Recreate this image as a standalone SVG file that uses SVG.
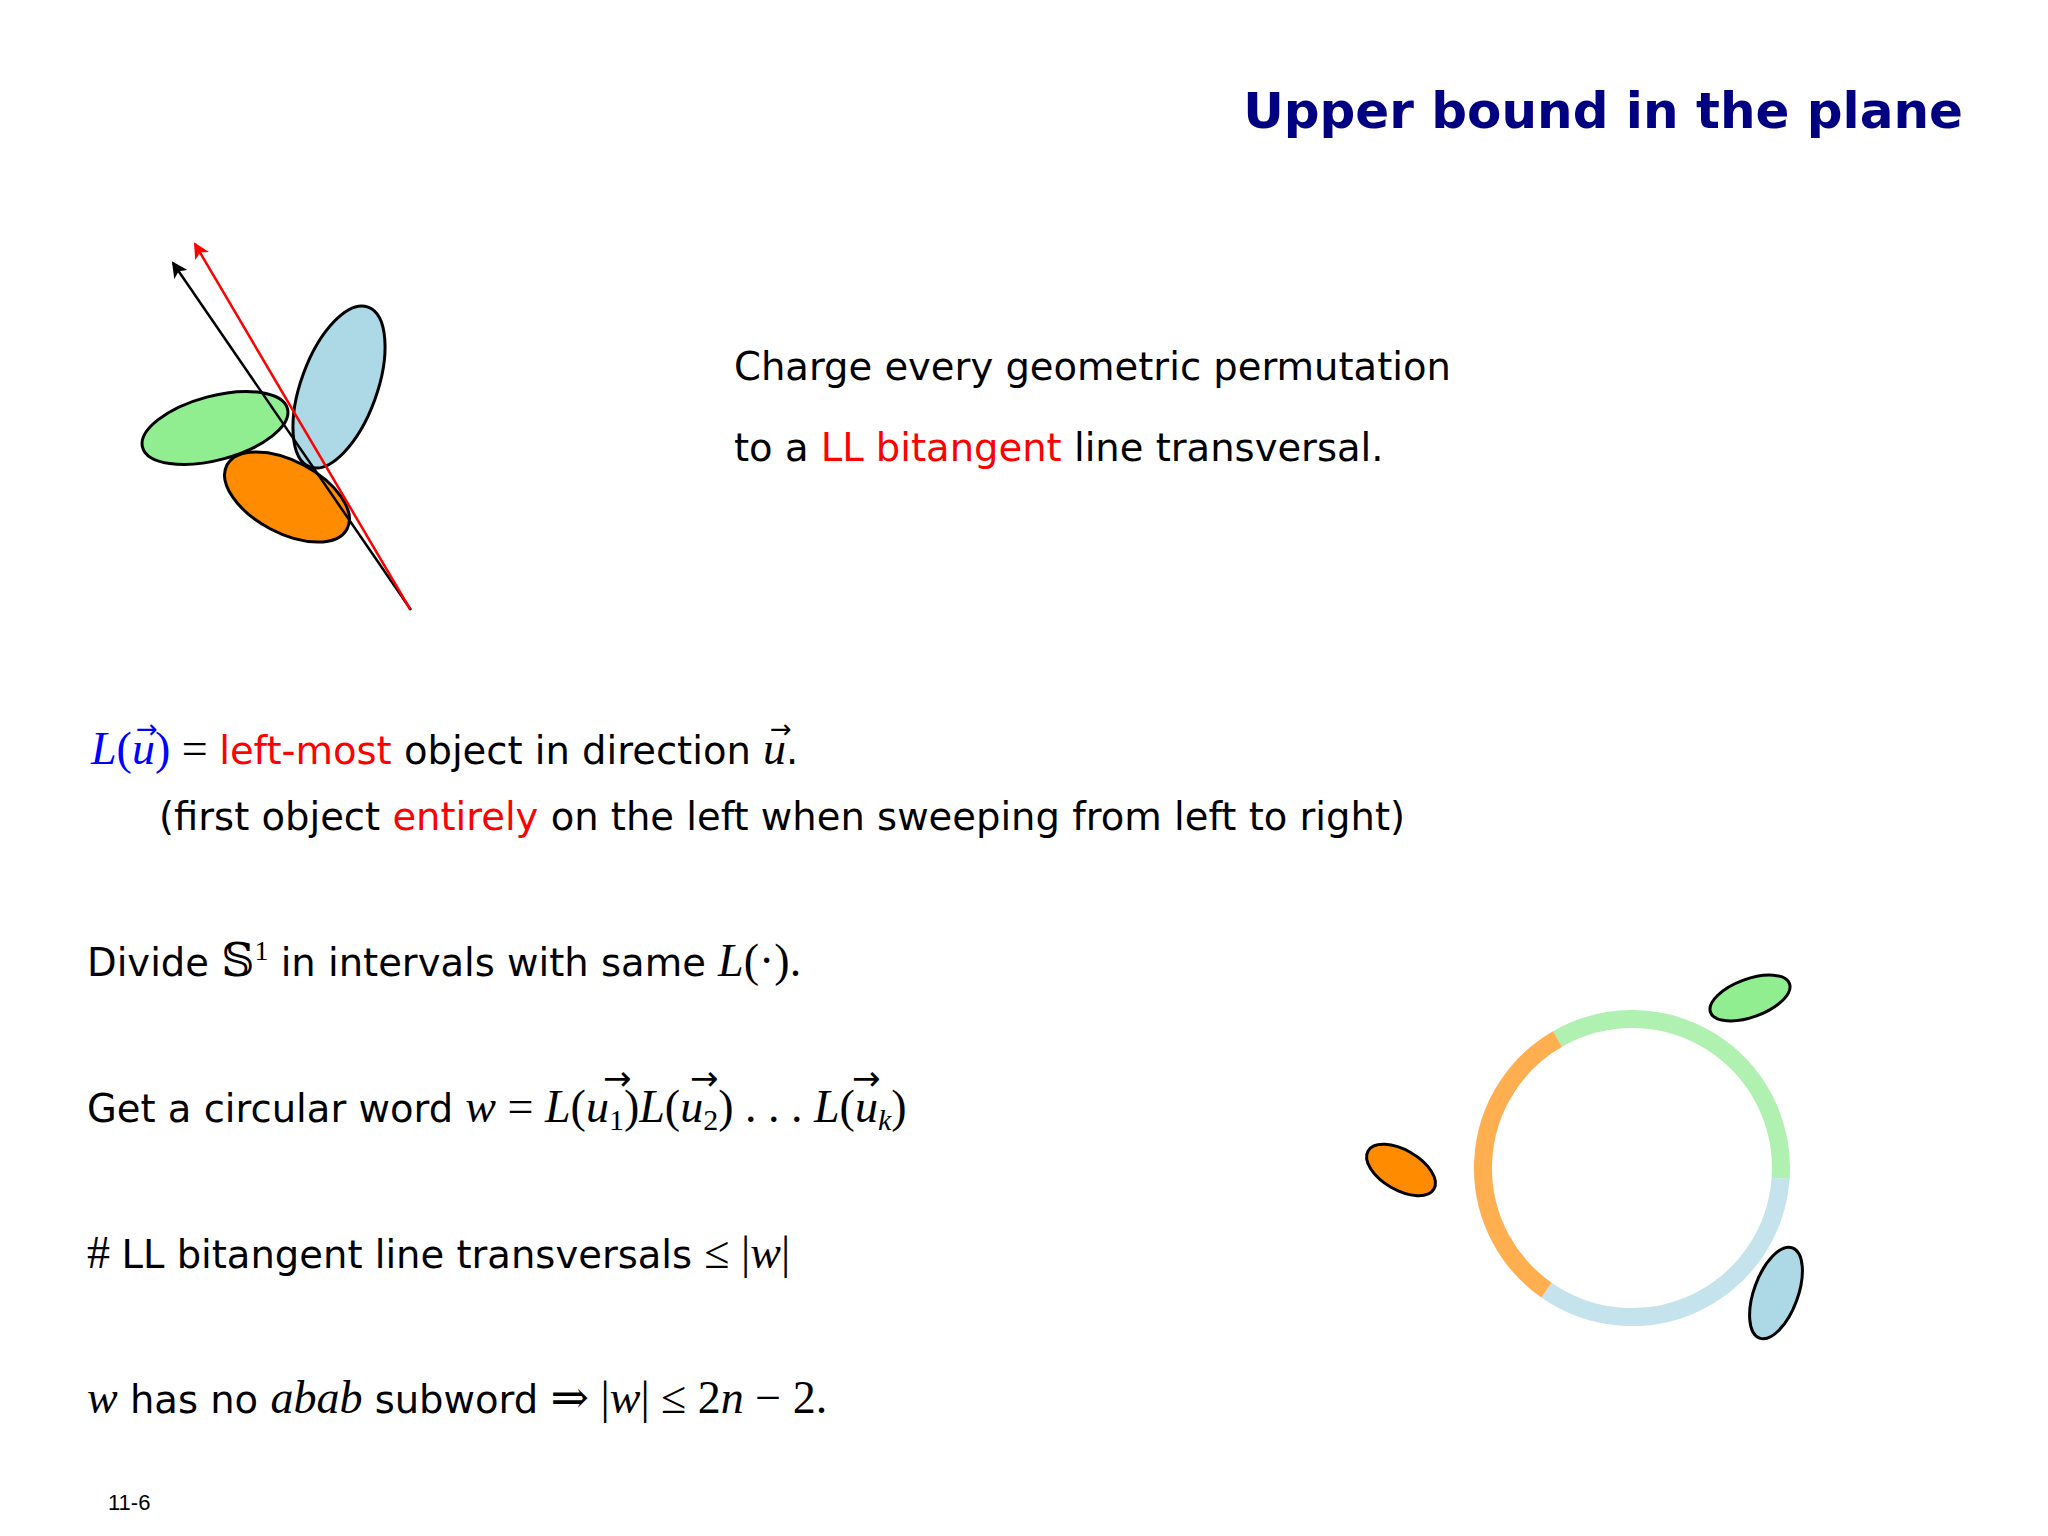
<svg xmlns="http://www.w3.org/2000/svg" width="2048" height="1536" viewBox="0 0 2048 1536">
<style>
.t{font-family:"DejaVu Sans","Liberation Sans",sans-serif;font-size:38.5px;fill:#000}
.m{font-family:"Liberation Serif","DejaVu Serif",serif;font-style:italic;font-size:46px}
.r{font-family:"Liberation Serif","DejaVu Serif",serif;font-style:normal;font-size:46px}
.red{fill:#ff0000}
.blue{fill:#0000ff}
.obj{stroke:#000;stroke-width:3}
.arc{fill:none;stroke-width:18}
.vec{font-family:"DejaVu Sans",sans-serif;font-size:26px}
.vec2{font-family:"DejaVu Sans",sans-serif;font-size:34px}
</style>
<defs>
<marker id="ab" markerWidth="16" markerHeight="16" refX="14" refY="8" orient="auto" markerUnits="userSpaceOnUse" viewBox="0 0 16 16"><path d="M0,0 L16,8 L0,16 L4,8 Z" fill="#000"/></marker>
<marker id="ar" markerWidth="16" markerHeight="16" refX="14" refY="8" orient="auto" markerUnits="userSpaceOnUse" viewBox="0 0 16 16"><path d="M0,0 L16,8 L0,16 L4,8 Z" fill="#ff0000"/></marker>
</defs>
<rect width="2048" height="1536" fill="#fff"/>
<text x="1963" y="128" text-anchor="end" style="font-family:'DejaVu Sans',sans-serif;font-weight:bold;font-size:50px;fill:#000080">Upper bound in the plane</text>

<g id="figure1">
<ellipse class="obj" cx="215" cy="428" rx="75" ry="32" transform="rotate(-15 215 428)" fill="#90ee90"/>
<ellipse class="obj" cx="339" cy="387" rx="85" ry="38" transform="rotate(-70 339 387)" fill="#add8e6"/>
<ellipse class="obj" cx="287" cy="497" rx="68" ry="36" transform="rotate(28 287 497)" fill="#ff8c00"/>
</g>
<g id="connectors">
<line x1="411" y1="610" x2="173" y2="263" stroke="#000" stroke-width="2.5" marker-end="url(#ab)"/>
<line x1="410" y1="609" x2="195" y2="244" stroke="#ff0000" stroke-width="2.5" marker-end="url(#ar)"/>
</g>

<text class="t" x="734" y="380">Charge every geometric permutation</text>
<text class="t" x="734" y="461">to a <tspan class="red">LL bitangent</tspan> line transversal.</text>

<text class="t" x="91" y="764"><tspan class="m blue">L</tspan><tspan class="r blue">(</tspan><tspan class="m blue">u</tspan><tspan class="r blue">)</tspan><tspan class="r"> = </tspan><tspan class="red">left-most</tspan> object in direction <tspan class="m">u</tspan>.</text>
<text class="vec blue" x="136" y="738">→</text>
<text class="vec" x="770" y="738">→</text>
<text class="t" x="159" y="830">(first object <tspan class="red">entirely</tspan> on the left when sweeping from left to right)</text>

<text class="t" x="87" y="976">Divide <tspan class="r">𝕊</tspan><tspan class="r" dy="-16" style="font-size:28px">1</tspan><tspan dy="16"> in intervals with same </tspan><tspan class="m">L</tspan><tspan class="r">(·).</tspan></text>
<text class="t" x="87" y="1122">Get a circular word <tspan class="m">w</tspan><tspan class="r"> = </tspan><tspan class="m">L</tspan><tspan class="r">(</tspan><tspan class="m">u</tspan><tspan class="r" dy="8" style="font-size:30px">1</tspan><tspan class="r" dy="-8">)</tspan><tspan class="m">L</tspan><tspan class="r">(</tspan><tspan class="m">u</tspan><tspan class="r" dy="8" style="font-size:30px">2</tspan><tspan class="r" dy="-8">) . . . </tspan><tspan class="m">L</tspan><tspan class="r">(</tspan><tspan class="m">u</tspan><tspan class="m" dy="8" style="font-size:30px">k</tspan><tspan class="r" dy="-8">)</tspan></text>
<text class="vec2" x="603" y="1090">→</text>
<text class="vec2" x="690" y="1090">→</text>
<text class="vec2" x="852" y="1090">→</text>
<text class="t" x="87" y="1268"><tspan class="r"># </tspan>LL bitangent line transversals <tspan class="r">≤ |</tspan><tspan class="m">w</tspan><tspan class="r">|</tspan></text>
<text class="t" x="87" y="1413"><tspan class="m">w</tspan> has no <tspan class="m">abab</tspan> subword <tspan class="r">⇒ |</tspan><tspan class="m">w</tspan><tspan class="r">| ≤ 2</tspan><tspan class="m">n</tspan><tspan class="r"> − 2.</tspan></text>
<text x="108" y="1510" style="font-family:'Liberation Sans',sans-serif;font-size:22px">11-6</text>

<g id="circle">
<path class="arc" stroke="#b0f0b0" d="M1557.5,1039 A149,149 0 0 1 1780.6,1178.4"/>
<path class="arc" stroke="#c5e3ec" d="M1780.6,1178.4 A149,149 0 0 1 1546.5,1290.1"/>
<path class="arc" stroke="#ffae50" d="M1546.5,1290.1 A149,149 0 0 1 1557.5,1039"/>
</g>
<g id="objects2">
<ellipse class="obj" cx="1750" cy="998" rx="42" ry="19" transform="rotate(-20 1750 998)" fill="#90ee90"/>
<ellipse class="obj" cx="1401" cy="1170" rx="38" ry="20" transform="rotate(30 1401 1170)" fill="#ff8c00"/>
<ellipse class="obj" cx="1776" cy="1293" rx="48" ry="22" transform="rotate(-70 1776 1293)" fill="#add8e6"/>
</g>
</svg>
